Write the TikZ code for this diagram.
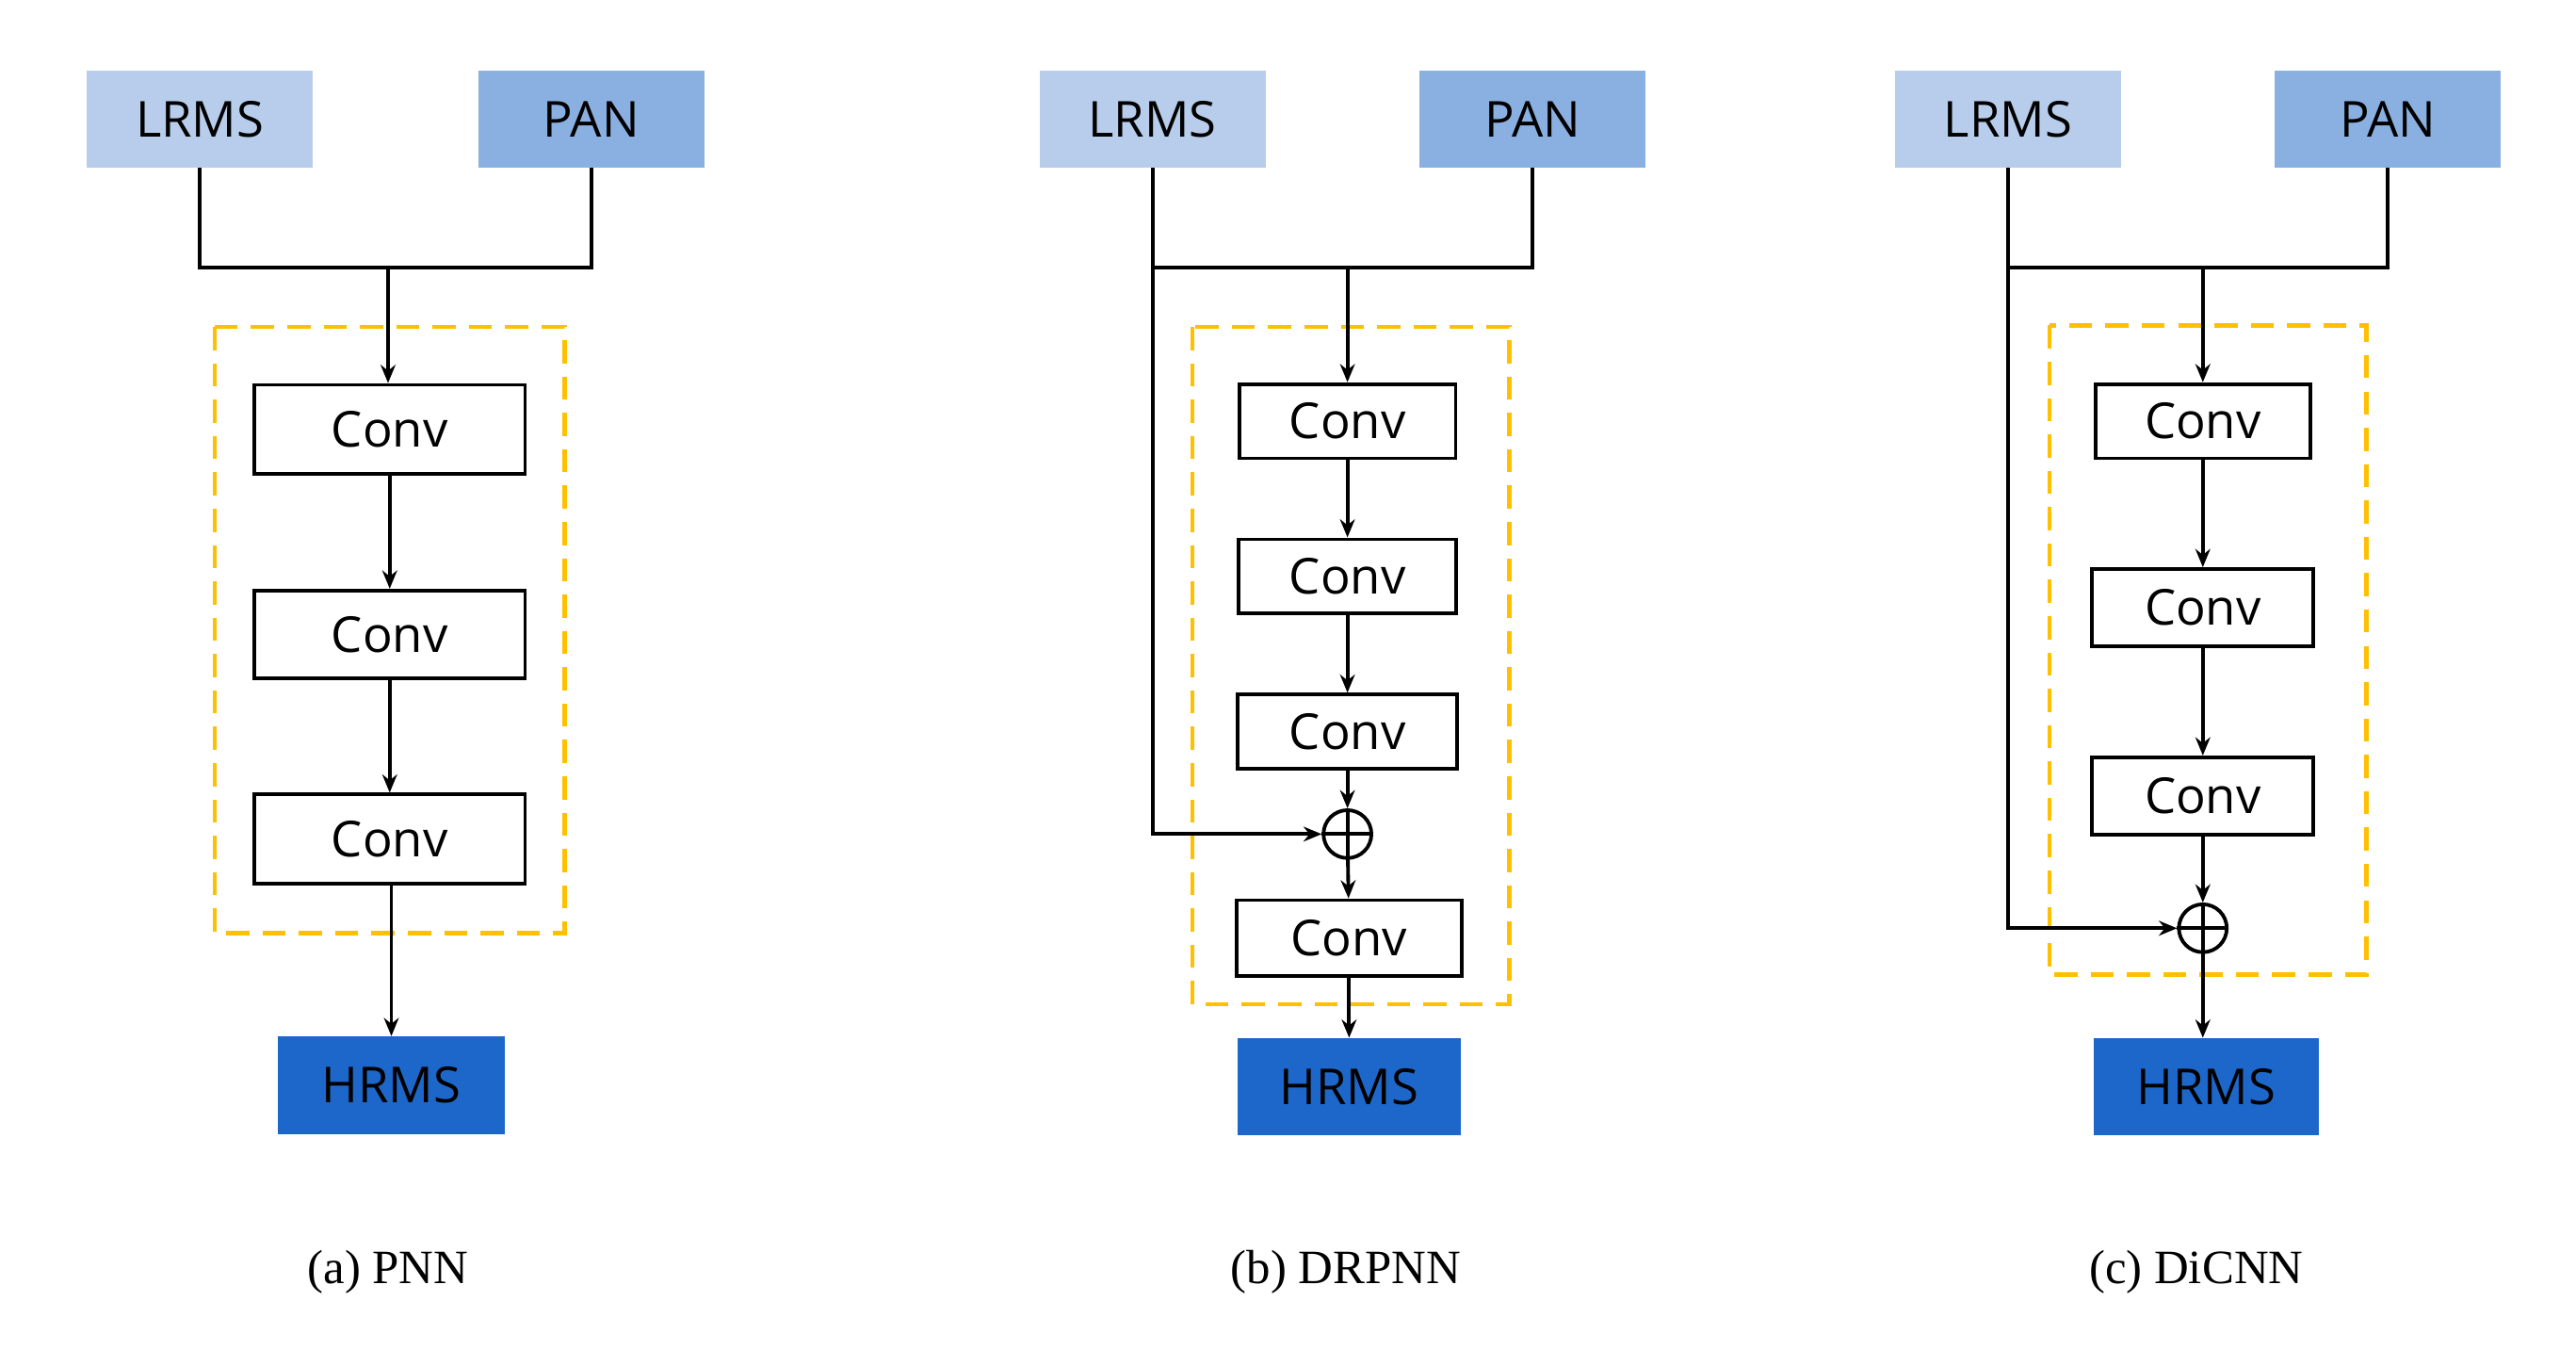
\documentclass[tikz,border=0pt]{standalone}
\usepackage{fontspec}
\setmainfont{Liberation Serif}
\newfontfamily\sansf{Open Sans}
\usetikzlibrary{arrows.meta}
\definecolor{lr}{RGB}{183,205,235}
\definecolor{pn}{RGB}{138,176,225}
\definecolor{hr}{RGB}{28,103,201}
\definecolor{dash}{RGB}{255,192,0}
\begin{document}
\begin{tikzpicture}[x=1pt,y=-1pt,
  inb/.style={draw=none,minimum width=137pt,minimum height=59pt,inner sep=0pt,font=\sansf\fontsize{30}{30}\selectfont},
  conv/.style={draw=black,line width=2.2pt,fill=white,inner sep=0pt,font=\sansf\fontsize{30}{30}\selectfont},
  ln/.style={line width=2.2pt},
  ar/.style={line width=2.2pt,-{Stealth[length=11pt,width=9pt]}},
  db/.style={draw=dash,line width=2.5pt,dash pattern=on 14pt off 8pt},
  plus/.style={circle,draw,line width=2.2pt,minimum size=29pt,inner sep=0pt},
  captxt/.style={font=\fontsize{29}{29}\selectfont}]
\useasboundingbox (0,0) rectangle (1560,817);
% ---------- (a)
\node[inb,fill=lr] (aL) at (121,72) {LRMS};
\node[inb,fill=pn] (aP) at (358,72) {PAN};
\draw[db] (130,198) rectangle (342,565);
\node[conv,minimum width=164pt,minimum height=54pt] (a1) at (236,260) {Conv};
\node[conv,minimum width=164pt,minimum height=53pt] (a2) at (236,384) {Conv};
\node[conv,minimum width=164pt,minimum height=54pt] (a3) at (236,508) {Conv};
\node[inb,fill=hr] (aH) at (237,657) {HRMS};
\coordinate (aJ) at (235,162);
\draw[ln] (aL.south) |- (aJ) -| (aP.south);
\draw[ar] (aJ) -- (aJ|-a1.north);
\draw[ar] (a1) -- (a2);
\draw[ar] (a2) -- (a3);
\draw[ar] (a3.south-|aH) -- (aH.north);
\node[captxt] (ca) at (235,770) {(a) PNN};
% ---------- (b)
\node[inb,fill=lr] (bL) at (698,72) {LRMS};
\node[inb,fill=pn] (bP) at (928,72) {PAN};
\draw[db] (722,198) rectangle (914,608);
\node[conv,minimum width=131pt,minimum height=45pt] (b1) at (816,255) {Conv};
\node[conv,minimum width=132pt,minimum height=45pt] (b2) at (816,349) {Conv};
\node[conv,minimum width=133pt,minimum height=45pt] (b3) at (816,443) {Conv};
\node[plus] (bp) at (816,505) {};
\node[conv,minimum width=136pt,minimum height=46pt] (b4) at (817,568) {Conv};
\node[inb,fill=hr,minimum width=135pt] (bH) at (817,658) {HRMS};
\draw[line width=2.2pt] (bp.north) -- (bp.south) (bp.west) -- (bp.east);
\coordinate (bJ) at (816,162);
\draw[ln] (bL.south) |- (bJ) -| (bP.south);
\draw[ar] (bJ) -- (b1.north);
\draw[ar] (b1) -- (b2);
\draw[ar] (b2) -- (b3);
\draw[ar] (b3) -- (bp);
\draw[ar] (bp) -- (b4);
\draw[ar] (b4) -- (bH);
\draw[ar] (bL.south) |- (bp.west);
\node[captxt] (cb) at (815,770) {(b) DRPNN};
% ---------- (c)
\node[inb,fill=lr] (cL) at (1216,72) {LRMS};
\node[inb,fill=pn] (cP) at (1446,72) {PAN};
\draw[db] (1241,197) rectangle (1433,590);
\node[conv,minimum width=130pt,minimum height=45pt] (c1) at (1334,255) {Conv};
\node[conv,minimum width=134pt,minimum height=47pt] (c2) at (1334,368) {Conv};
\node[conv,minimum width=134pt,minimum height=47pt] (c3) at (1334,482) {Conv};
\node[plus] (cp) at (1334,562) {};
\draw[line width=2.2pt] (cp.north) -- (cp.south) (cp.west) -- (cp.east);
\node[inb,fill=hr,minimum width=136pt] (cH) at (1336,658) {HRMS};
\coordinate (cJ) at (1334,162);
\draw[ln] (cL.south) |- (cJ) -| (cP.south);
\draw[ar] (cJ) -- (c1.north);
\draw[ar] (c1) -- (c2);
\draw[ar] (c2) -- (c3);
\draw[ar] (c3) -- (cp);
\draw[ar] (cp.south) -- (cp.south|-cH.north);
\draw[ar] (cL.south) |- (cp.west);
\node[captxt] (cc) at (1330,770) {(c) DiCNN};
\end{tikzpicture}
\end{document}
